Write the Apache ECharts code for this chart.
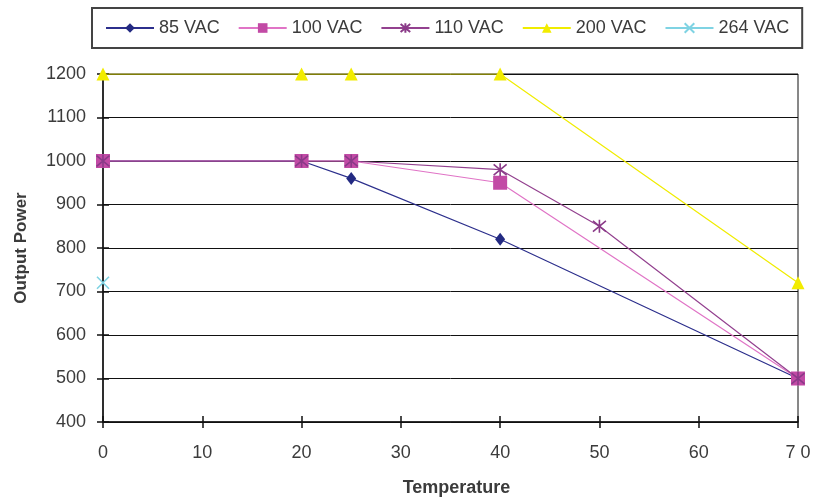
<!DOCTYPE html>
<html>
<head>
<meta charset="utf-8">
<script src="https://cdn.jsdelivr.net/npm/echarts@6/dist/echarts.min.js"></script>
<style>
  html, body { margin: 0; padding: 0; background: #fff; }
  #chart { width: 815px; height: 497px; }
</style>
</head>
<body>
<div id="chart"></div>
<script>
// Output power derating vs. temperature for several input voltages
const xTickLabels = ['0', '10', '20', '30', '40', '50', '60', '7 0'];

const vac85  = [[0, 1000], [20, 1000], [25, 960], [40, 820], [70, 500]];
const vac100 = [[0, 1000], [20, 1000], [25, 1000], [40, 950], [70, 500]];
const vac110 = [[0, 1000], [20, 1000], [25, 1000], [40, 980], [50, 850], [70, 500]];
const vac200 = [[0, 1200], [20, 1200], [25, 1200], [40, 1200], [70, 720]];
const vac264 = [[0, 720]];

const seriesNames = ['85 VAC', '100 VAC', '110 VAC', '200 VAC', '264 VAC'];

const FONT = '"Liberation Sans", Arial, sans-serif';
const TEXT = '#3b3b3b';
const AXIS = '#111';

const starPath = 'path://M0,0 L10,10 M10,0 L0,10 M5,-1 L5,11';
const crossPath = 'path://M0,0 L10,10 M10,0 L0,10';

const GRID = { left: 103, right: 17, top: 74, bottom: 75 };

// Ticks that cross the axis line: the main grid's axes draw the outer half,
// a twin grid on the same rectangle draws the inner half
const tickStyle = { color: AXIS, width: 1.5 };

const chart = echarts.init(document.getElementById('chart'), null, { renderer: 'canvas' });

chart.setOption({
  animation: false,
  backgroundColor: '#fff',
  textStyle: { fontFamily: FONT },
  legend: {
    left: 92, top: 8,
    padding: [11, 13, 11, 13],
    borderColor: '#444',
    borderWidth: 2,
    itemGap: 18,
    itemWidth: 48,
    itemHeight: 12,
    textStyle: { fontFamily: FONT, fontSize: 18, color: TEXT },
    data: seriesNames
  },
  grid: [
    Object.assign({ show: true, borderColor: AXIS, borderWidth: 1, outerBoundsMode: 'none' }, GRID),
    Object.assign({ show: false, outerBoundsMode: 'none' }, GRID)
  ],
  xAxis: [
    {
      gridIndex: 0, type: 'value', min: 0, max: 70, interval: 10, position: 'bottom',
      name: 'Temperature', nameLocation: 'middle', nameGap: 57,
      nameTextStyle: { fontFamily: FONT, fontSize: 18, fontWeight: 'bold', color: TEXT, padding: [0, 0, 0, 12] },
      axisLine: { lineStyle: { color: AXIS, width: 1.5 } },
      axisTick: { show: true, length: 6, lineStyle: tickStyle },
      axisLabel: {
        margin: 22, fontSize: 18, color: TEXT, fontFamily: FONT,
        formatter: v => xTickLabels[Math.round(v / 10)]
      },
      splitLine: { show: false }
    },
    {
      gridIndex: 1, type: 'value', min: 0, max: 70, interval: 10, position: 'bottom',
      axisLine: { show: false },
      axisTick: { show: true, inside: true, length: 6, lineStyle: tickStyle },
      axisLabel: { show: false },
      splitLine: { show: false }
    }
  ],
  yAxis: [
    {
      gridIndex: 0, type: 'value', min: 400, max: 1200, interval: 100, position: 'left',
      name: 'Output Power', nameLocation: 'middle', nameGap: 73,
      nameTextStyle: { fontFamily: FONT, fontSize: 17, fontWeight: 'bold', color: TEXT },
      axisLine: { show: true, lineStyle: { color: AXIS, width: 1.5 } },
      axisTick: { show: true, length: 6, lineStyle: tickStyle },
      axisLabel: { margin: 17, fontSize: 18, color: TEXT, fontFamily: FONT, formatter: v => String(v) },
      splitLine: { show: true, lineStyle: { color: AXIS, width: 1 } }
    },
    {
      gridIndex: 1, type: 'value', min: 400, max: 1200, interval: 100, position: 'left',
      axisLine: { show: false },
      axisTick: { show: true, inside: true, length: 6, lineStyle: tickStyle },
      axisLabel: { show: false },
      splitLine: { show: false }
    }
  ],
  series: [
    {
      name: seriesNames[0], type: 'line', data: vac85,
      symbol: 'diamond', symbolSize: [10, 13],
      lineStyle: { color: '#2c2f8c', width: 1.2 },
      itemStyle: { color: '#232a82' }
    },
    {
      name: seriesNames[1], type: 'line', data: vac100,
      symbol: 'rect', symbolSize: 14,
      lineStyle: { color: '#e074c6', width: 1.2 },
      itemStyle: { color: '#c24aa5' }
    },
    {
      name: seriesNames[2], type: 'line', data: vac110,
      symbol: starPath, symbolSize: 13,
      lineStyle: { color: '#93418f', width: 1.2 },
      itemStyle: { color: '#93418f', borderColor: '#8a3a88', borderWidth: 1.6 }
    },
    {
      name: seriesNames[3], type: 'line', data: vac200,
      symbol: 'triangle', symbolSize: 13,
      lineStyle: { color: '#f0ec00', width: 1.2 },
      itemStyle: { color: '#f2ec00' }
    },
    {
      name: seriesNames[4], type: 'line', data: vac264,
      symbol: crossPath, symbolSize: 12,
      lineStyle: { color: '#7fd3e3', width: 1.2 },
      itemStyle: { color: '#7fd3e3', borderColor: '#7fd3e3', borderWidth: 1.6 }
    }
  ]
});
</script>
</body>
</html>
